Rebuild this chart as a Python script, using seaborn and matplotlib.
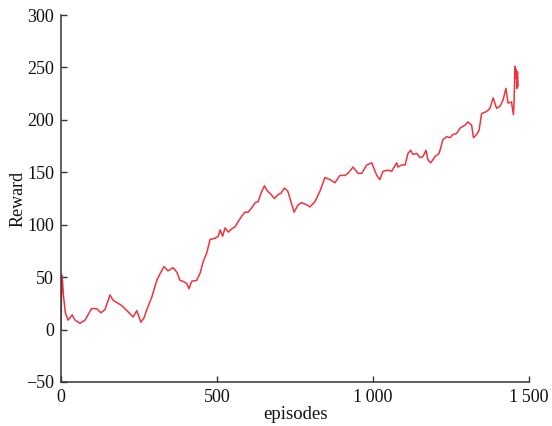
import matplotlib
matplotlib.use("Agg")
import matplotlib.pyplot as plt
import matplotlib.ticker as mticker
import seaborn as sns
import pandas as pd

episodes = [0, 1, 3, 5, 8, 14, 23, 36, 45, 61, 77, 98, 114, 128, 141, 157, 167, 194, 215, 231,
            243, 256, 266, 275, 291, 307, 317, 330, 343, 359, 371, 381, 391, 403, 410, 419, 435,
            446, 456, 467, 478, 494, 504, 510, 518, 526, 536, 547, 558, 568, 579, 590, 600, 611,
            622, 632, 641, 652, 662, 673, 684, 697, 705, 716, 727, 737, 747, 760, 771, 787, 798,
            814, 830, 846, 862, 878, 894, 910, 920, 936, 952, 964, 980, 996, 1012, 1022, 1032,
            1048, 1060, 1076, 1080, 1092, 1103, 1112, 1121, 1128, 1140, 1151, 1160, 1170, 1176,
            1185, 1199, 1212, 1224, 1236, 1247, 1256, 1268, 1279, 1295, 1304, 1316, 1322, 1332,
            1340, 1348, 1364, 1375, 1385, 1396, 1407, 1417, 1426, 1433, 1444, 1450, 1452, 1455,
            1457, 1459, 1461, 1463, 1465]
reward = [0, 25, 52, 46, 32, 16, 9, 14, 9, 6, 9, 20, 20, 16, 19, 33, 28, 23, 17, 12,
          18, 7, 11, 19, 31, 47, 53, 60, 56, 59, 55, 47, 46, 44, 39, 46, 47,
          54, 65, 73, 86, 87, 89, 95, 89, 97, 93, 96, 98, 103, 108, 112, 112, 116,
          121, 122, 130, 137, 132, 129, 125, 129, 130, 135, 132, 122, 112, 119, 121, 119, 117,
          122, 132, 145, 143, 140, 147, 147, 149, 155, 149, 149, 157, 159, 147, 143, 151,
          152, 151, 159, 155, 157, 157, 168, 171, 167, 168, 164, 165, 171, 162,
          159, 165, 168, 181, 184, 183, 186, 187, 192, 195, 198, 195, 183, 186,
          190, 206, 208, 211, 221, 211, 213, 219, 230, 216, 217, 205, 215, 251,
          240, 248, 230, 246, 232]

xticks = [0, 500, 1000, 1500]
yticks = [-50, 0, 50, 100, 150, 200, 250, 300]

df = pd.DataFrame({"episodes": episodes, "Reward": reward})

sns.set_style("ticks")
plt.rcParams["font.family"] = ["Liberation Serif", "DejaVu Serif"]
plt.rcParams["axes.unicode_minus"] = True

fig = plt.figure(figsize=(5.52, 4.26), dpi=100)
ax = fig.add_axes([61/552, 44/426, 468/552, 367/426])

sns.lineplot(data=df, x="episodes", y="Reward", ax=ax, color="#f0323c",
             linewidth=1.1, estimator=None, sort=False)

ax.set_xlim(0, 1500)
ax.set_ylim(-50, 300)
ax.set_xticks(xticks)
ax.set_yticks(yticks)

def fmt(v, pos):
    s = f"{int(v):,}".replace(",", "\u2009")
    return s.replace("-", "\u2212")

ax.xaxis.set_major_formatter(mticker.FuncFormatter(fmt))
ax.yaxis.set_major_formatter(mticker.FuncFormatter(fmt))

for side in ["top", "right"]:
    ax.spines[side].set_visible(False)
for side in ["left", "bottom"]:
    ax.spines[side].set_color("#333333")
    ax.spines[side].set_linewidth(1.1)

ax.tick_params(direction="in", length=4, width=1, color="#333333",
               labelsize=13, labelcolor="#111111", pad=5)
ax.set_xlabel("episodes", fontsize=13.5, color="#111111", labelpad=0)
ax.set_ylabel("Reward", fontsize=13, color="#111111", labelpad=0)

fig.savefig("out.png", dpi=100)
